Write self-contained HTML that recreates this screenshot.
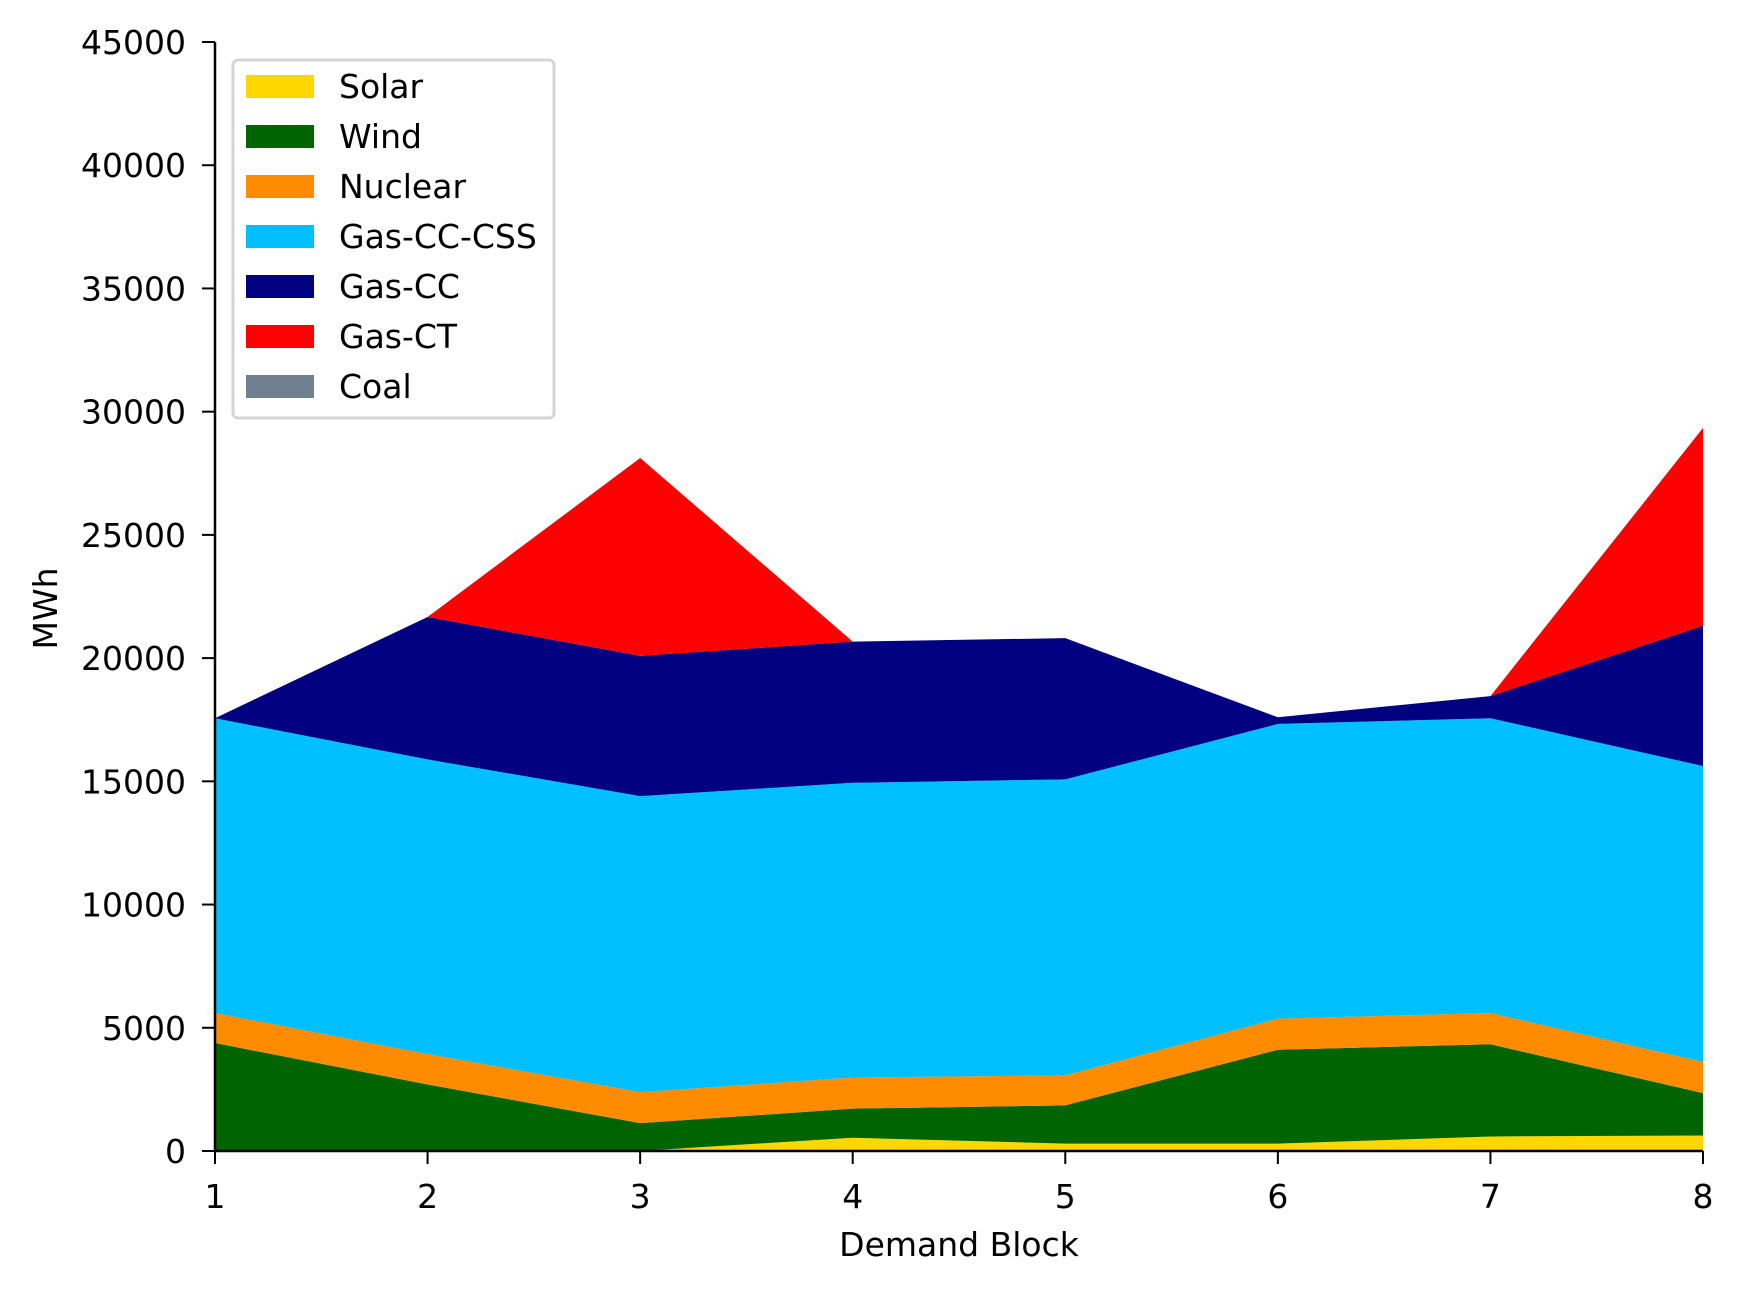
<!DOCTYPE html>
<html><head><meta charset="utf-8"><style>
body{margin:0;background:#fff}
svg text{font-family:"DejaVu Sans","Liberation Sans",sans-serif;fill:#000}
</style></head><body>
<svg id="chart" width="1743" height="1293" viewBox="0 0 1743 1293" xmlns="http://www.w3.org/2000/svg">
<g id="areas"></g>
<g id="axes"></g>
<g id="legend"></g>
</svg>
<script>
const categories = [1,2,3,4,5,6,7,8];
const seriesNames = ["Solar","Wind","Nuclear","Gas-CC-CSS","Gas-CC","Gas-CT","Coal"];
const seriesColors = ["#ffd700","#006400","#ff8c00","#00bfff","#000080","#ff0000","#708090"];
const solar = [0,0,0,540,300,300,590,630];
const wind = [4380,2700,1130,1180,1550,3810,3740,1720];
const nuclear = [1220,1230,1260,1260,1220,1260,1270,1260];
const gasCCCSS = [11960,11960,12010,11960,12010,11960,11960,12010];
const gasCC = [0,5780,5690,5730,5730,270,900,5690];
const gasCT = [0,0,8030,0,0,0,0,8030];
const coal = [0,0,0,0,0,0,0,0];
const yTicks = [0,5000,10000,15000,20000,25000,30000,35000,40000,45000];

const NS="http://www.w3.org/2000/svg";
const X0=215,X1=1703,Y0=1151,Y1=42,YMAX=45000;
const xs=v=>X0+(v-categories[0])/(categories[categories.length-1]-categories[0])*(X1-X0);
const ys=v=>Y0-v/YMAX*(Y0-Y1);
function mk(tag,attrs,parent){const e=document.createElementNS(NS,tag);for(const k in attrs)e.setAttribute(k,attrs[k]);parent.appendChild(e);return e;}
const series=[solar,wind,nuclear,gasCCCSS,gasCC,gasCT,coal];
const areas=document.getElementById('areas');
let base=categories.map(()=>0);
series.forEach((s,i)=>{
  const top=base.map((b,j)=>b+s[j]);
  let d='M'+categories.map((c,j)=>xs(c)+','+ys(top[j])).join('L');
  for(let j=categories.length-1;j>=0;j--)d+='L'+xs(categories[j])+','+ys(base[j]);
  d+='Z';
  const p=mk('path',{d:d,fill:seriesColors[i]},areas);
  
  
  base=top;
});
const axes=document.getElementById('axes');
const yl=mk('line',{x1:X0,y1:Y0,x2:X0,y2:Y1,stroke:'#000','stroke-width':2.5},axes);


const xl=mk('line',{x1:X0,y1:Y0,x2:X1,y2:Y0,stroke:'#000','stroke-width':2.5},axes);


yTicks.forEach(t=>{
  const y=ys(t);
  const tl=mk('line',{x1:X0-13,y1:y,x2:X0,y2:y,stroke:'#000','stroke-width':2},axes);
  
  
  const tx=mk('text',{x:X0-29,y:y+12,'text-anchor':'end','font-size':33},axes);
  tx.textContent=t;
  
  
});
categories.forEach(c=>{
  const x=xs(c);
  const tl=mk('line',{x1:x,y1:Y0,x2:x,y2:Y0+13,stroke:'#000','stroke-width':2},axes);
  
  
  const tx=mk('text',{x:x,y:Y0+57,'text-anchor':'middle','font-size':33},axes);
  tx.textContent=c;
  
  
});
const xt=mk('text',{x:(X0+X1)/2,y:1256,'text-anchor':'middle','font-size':33},axes);
xt.textContent='Demand Block';


const yt=mk('text',{x:0,y:0,'text-anchor':'middle','font-size':33,transform:'translate(57,'+((Y0+Y1)/2+12)+') rotate(-90)'},axes);
yt.textContent='MWh';


const lg=document.getElementById('legend');
const lb=mk('rect',{x:233,y:60,width:321,height:358,rx:5,fill:'#fff','fill-opacity':0.8,stroke:'#d5d5d5','stroke-width':3},lg);


seriesNames.forEach((n,i)=>{
  const y=86+i*50;
  const r=mk('rect',{x:246,y:y-11,width:68,height:23,fill:seriesColors[i]},lg);
  
  
  const t=mk('text',{x:339,y:y+12,'font-size':33},lg);
  t.textContent=n;
  
  
});
</script>
</body></html>
